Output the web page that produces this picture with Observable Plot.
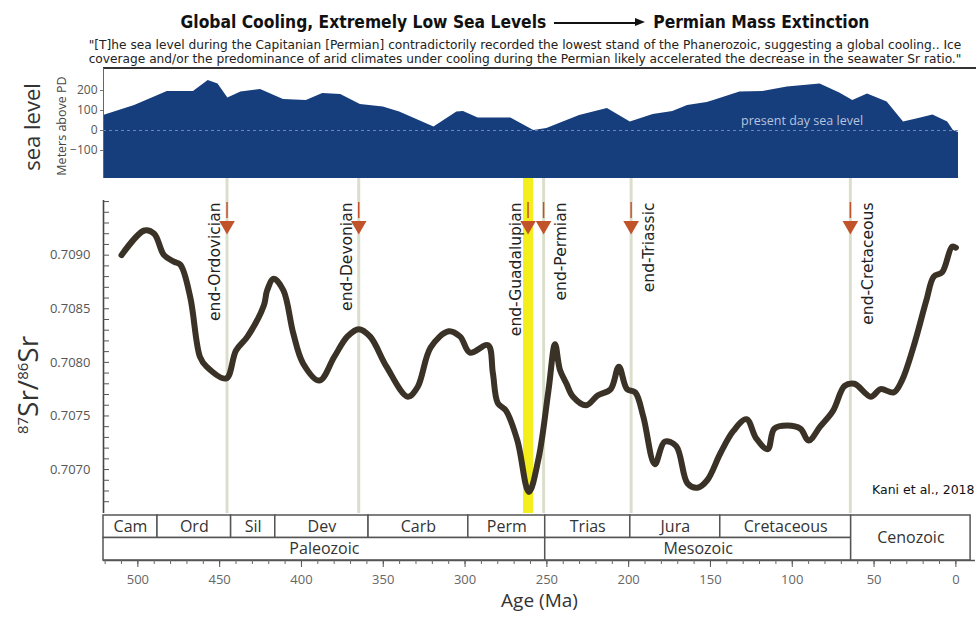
<!DOCTYPE html>
<html>
<head>
<meta charset="utf-8">
<script src="https://cdn.jsdelivr.net/npm/d3@7"></script>
<script src="https://cdn.jsdelivr.net/npm/@observablehq/plot@0.6"></script>
<style>
html, body { margin: 0; padding: 0; background: #fff; }
#chart { position: relative; width: 976px; height: 619px; overflow: hidden; background: #fff; font-family: "Open Sans", sans-serif; color: #333; }
#title { position: absolute; top: 10px; left: 74px; width: 902px; text-align: center; font-family: "Liberation Sans Narrow", "DejaVu Sans Condensed", sans-serif; font-weight: bold; font-size: 17.3px; line-height: 24px; color: #111; white-space: nowrap; }
.arrow { display: inline-block; position: relative; width: 82px; height: 1.5px; background: #111; vertical-align: middle; margin: 0 17px 0 8px; }
.arrow::after { content: ""; position: absolute; right: -9px; top: -4px; border-left: 10px solid #111; border-top: 4.75px solid transparent; border-bottom: 4.75px solid transparent; }
#quote { position: absolute; top: 38px; left: 74px; width: 902px; text-align: center; font-family: "Liberation Sans Narrow", "DejaVu Sans Condensed", sans-serif; font-size: 11.4px; line-height: 14.4px; color: #222; white-space: nowrap; transform: scaleX(1.19); transform-origin: 451px 0; }
#topline { position: absolute; left: 103px; top: 67px; width: 873px; height: 2px; background: #333; }
.rot { position: absolute; transform: translate(-50%, -50%) rotate(-90deg); white-space: nowrap; }
.rot sup { font-size: 15px; vertical-align: 0.7em; line-height: 0; }
</style>
</head>
<body>
<div id="chart">
  <div id="title">Global Cooling, Extremely Low Sea Levels<span class="arrow"></span>Permian Mass Extinction</div>
  <div id="quote">"[T]he sea level during the Capitanian [Permian] contradictorily recorded the lowest stand of the Phanerozoic, suggesting a global cooling.. Ice<br>coverage and/or the predominance of arid climates under cooling during the Permian likely accelerated the decrease in the seawater Sr ratio."</div>
  <div id="topline"></div>
  <div class="rot" style="left:31px;top:127px;font-size:22px;color:#333">sea level</div>
  <div class="rot" style="left:61px;top:126px;font-size:12.5px;color:#444">Meters above PD</div>
  <div class="rot" style="left:27px;top:385px;font-size:28px;color:#333"><sup>87</sup>Sr/<sup>86</sup>Sr</div>
</div>
<script>
// ---- data ----
const xDomain = [521, -12];

const seaAge   = [521, 502, 482, 466, 457, 451, 445, 437, 425, 411, 397, 387, 376, 364, 350, 340, 319, 305, 301, 292, 278, 272, 258, 250, 230, 213, 199, 185, 173, 164, 152, 148, 132, 118, 103, 83, 71, 63, 54, 42, 32, 24, 14, 5, 1.5, -1.6];
const seaLevel = [75, 125, 195, 195, 250, 233, 162, 192, 205, 155, 150, 185, 180, 130, 117, 92, 17, 92, 95, 62, 62, 62, 0, 10, 75, 110, 42, 80, 95, 125, 140, 150, 192, 195, 217, 233, 188, 150, 183, 142, 42, 58, 78, 42, 0, -10];
const seaTicks = [-100, 0, 100, 200];
const seaLabel = "present day sea level";

const srAge = [510, 496, 490, 484, 478, 474, 468, 462, 458, 446, 440, 433, 423, 421, 417, 411, 405, 399, 389, 380, 372, 365, 358, 348, 335, 329, 321, 310, 303, 297, 286, 283, 280, 275, 268, 261, 255, 249, 245, 242, 238, 234, 226, 219, 211, 206, 201, 196, 191, 184, 178, 171, 164, 158, 152, 144, 136, 128, 122, 115, 111, 103, 95, 90, 83, 75, 68, 62, 52, 46, 38, 33, 26, 18, 13.5, 8.4, 2.3, 0];
const srRatio = [0.70900, 0.70923, 0.70920, 0.70900, 0.70894, 0.70891, 0.70861, 0.70805, 0.70796, 0.70785, 0.70811, 0.70824, 0.70853, 0.70867, 0.70878, 0.70867, 0.70827, 0.70799, 0.70783, 0.70805, 0.70824, 0.70831, 0.70824, 0.70796, 0.70768, 0.70777, 0.70814, 0.70829, 0.70824, 0.70809, 0.70816, 0.70790, 0.70762, 0.70755, 0.70727, 0.70679, 0.70711, 0.70774, 0.70817, 0.70793, 0.70780, 0.70768, 0.70760, 0.70769, 0.70775, 0.70796, 0.70775, 0.70772, 0.70749, 0.70705, 0.70726, 0.70722, 0.70687, 0.70683, 0.70690, 0.70715, 0.70736, 0.70747, 0.70729, 0.70719, 0.70738, 0.70741, 0.70738, 0.70727, 0.70740, 0.70755, 0.70778, 0.70780, 0.70768, 0.70775, 0.70772, 0.70783, 0.70814, 0.70858, 0.70880, 0.70884, 0.70908, 0.70907];
const srTicks = [0.7070, 0.7075, 0.7080, 0.7085, 0.7090];

const eventNames = ["end-Ordovician", "end-Devonian", "end-Guadalupian", "end-Permian", "end-Triassic", "end-Cretaceous"];
const eventAges  = [445.5, 365, 261.5, 252, 198.5, 64.5];
const highlightEvent = "end-Guadalupian";
const credit = "Kani et al., 2018";

const periodNames = ["Cam", "Ord", "Sil", "Dev", "Carb", "Perm", "Trias", "Jura", "Cretaceous"];
const periodStart = [521, 488, 443, 416, 359, 298, 251, 199, 144];
const periodEnd   = [488, 443, 416, 359, 298, 251, 199, 144, 64];
const eraNames = ["Paleozoic", "Mesozoic", "Cenozoic"];
const eraStart = [521, 251, 64];
const eraEnd   = [251, 64, -9];
const ageTicks = [500, 450, 400, 350, 300, 250, 200, 150, 100, 50, 0];
const xLabel = "Age (Ma)";

// ---- tables ----
const sea = seaAge.map((a, i) => ({age: a, sl: seaLevel[i]}));
const sr = srAge.map((a, i) => ({age: a, sr: srRatio[i]}));
const events = eventNames.map((n, i) => ({name: n, age: eventAges[i]}));
const periods = periodNames.map((n, i) => ({name: n, start: periodStart[i], end: periodEnd[i]}));
const eras = eraNames.map((n, i) => {
  const hasPeriods = periods.some(p => p.start <= eraStart[i] && p.end >= eraEnd[i]);
  return {name: n, start: eraStart[i], end: eraEnd[i], span: !hasPeriods};
});

const W = 976;
const chart = document.getElementById("chart");
const baseStyle = {background: "transparent", overflow: "visible", fontFamily: "Open Sans, sans-serif"};
function place(svg, top) {
  svg.style.position = "absolute";
  svg.style.left = "0px";
  svg.style.top = top + "px";
  chart.appendChild(svg);
}

// ---- sea level panel ----
const seaBase = -240;
const plotSea = Plot.plot({
  width: W, height: 125,
  marginLeft: 103, marginRight: 1, marginTop: 8, marginBottom: 7,
  style: baseStyle,
  x: {domain: xDomain, axis: null},
  y: {domain: [seaBase, 310], axis: null},
  marks: [
    Plot.areaY(sea, {x: "age", y1: seaBase, y2: "sl", fill: "#163d7c", curve: "linear"}),
    Plot.ruleY([0], {x1: seaAge[0], x2: seaAge[seaAge.length - 1], stroke: "#6d87bb", strokeDasharray: "3,3", strokeWidth: 1.2}),
    Plot.text([seaLabel], {x: 94, y: 50, fill: "#b7c4df", fontSize: 12.5}),
    Plot.ruleX([xDomain[0]], {stroke: "#666", strokeWidth: 1}),
    Plot.axisY(seaTicks, {anchor: "left", tickSize: 3, tickPadding: 3, fontSize: 12, fill: "#555", stroke: "#777", label: null})
  ]
});
place(plotSea, 60);

// ---- Sr panel ----
const srTop = 178;
const plotSr = Plot.plot({
  width: W, height: 335,
  marginLeft: 103, marginRight: 1, marginTop: 22, marginBottom: 0,
  style: baseStyle,
  x: {domain: xDomain, axis: null},
  y: {domain: [0.70659, 0.70951], axis: null},
  marks: [
    Plot.ruleX(events.filter(d => d.name !== highlightEvent), {x: "age", stroke: "#dcdecd", strokeWidth: 3, insetTop: -22}),
    Plot.ruleX(events.filter(d => d.name === highlightEvent), {x: "age", stroke: "#f3ee1c", strokeWidth: 10, insetTop: -22}),
    Plot.ruleX([xDomain[0]], {stroke: "#444", strokeWidth: 1.6}),
    Plot.axisY(d3.range(67, 96).map(i => 0.7 + i / 10000), {anchor: "left", tickSize: 6, dx: 6, tickFormat: () => "", stroke: "#555", label: null}),
    Plot.axisY(srTicks, {anchor: "left", tickSize: 0, tickPadding: 13, tickFormat: d3.format(".4f"), fontSize: 13, fill: "#555", label: null}),
    Plot.line(sr, {x: "age", y: "sr", stroke: "#3a3226", strokeWidth: 6, curve: "catmull-rom", strokeLinejoin: "round", strokeLinecap: "round"}),
    Plot.ruleX(events, {x: "age", stroke: "#c1532b", strokeWidth: 1.5, insetTop: 2, insetBottom: 295}),
    Plot.dot(events, {x: "age", frameAnchor: "top", dy: 25, symbol: "triangle", rotate: 180, r: 5.8, fill: "#c1532b", stroke: null}),
    Plot.text(events.filter(d => d.age > 255), {x: "age", text: "name", frameAnchor: "top", rotate: -90, textAnchor: "end", dx: -18, dy: 2, fontSize: 15.5, fontFamily: "DejaVu Sans", fill: "#222"}),
    Plot.text(events.filter(d => d.age <= 255), {x: "age", text: "name", frameAnchor: "top", rotate: -90, textAnchor: "end", dx: 11.5, dy: 2, fontSize: 15.5, fontFamily: "DejaVu Sans", fill: "#222"}),
    Plot.text([credit], {frameAnchor: "bottom-right", textAnchor: "end", dx: -1, dy: -20, fontSize: 12.5, fontFamily: "DejaVu Sans", fill: "#111"})
  ]
});
place(plotSr, srTop);

// ---- timescale + age axis ----
const plotTs = Plot.plot({
  width: W, height: 106,
  marginLeft: 103, marginRight: 1, marginTop: 2, marginBottom: 59,
  style: baseStyle,
  x: {domain: xDomain, axis: null},
  y: {domain: [0, 2], axis: null},
  marks: [
    Plot.rect(periods, {x1: "start", x2: "end", y1: 1, y2: 2, fill: "white", stroke: "#555", strokeWidth: 1.5}),
    Plot.rect(eras, {x1: "start", x2: "end", y1: 0, y2: d => d.span ? 2 : 1, fill: "white", stroke: "#555", strokeWidth: 1.5}),
    Plot.text(periods, {x: d => (d.start + d.end) / 2, y: 1.5, text: "name", fontSize: 16, fill: "#333"}),
    Plot.text(eras, {x: d => (d.start + d.end) / 2, y: d => d.span ? 1 : 0.5, text: "name", fontSize: 16, fill: "#333"}),
    Plot.ruleY([0], {stroke: "#555", strokeWidth: 1.5}),
    Plot.axisX(d3.range(0, 521, 10), {anchor: "bottom", tickSize: 4, tickFormat: () => "", stroke: "#666", label: null}),
    Plot.axisX(ageTicks, {anchor: "bottom", tickSize: 7, tickPadding: 7, fontSize: 13, fill: "#666", stroke: "#555", label: null}),
    Plot.text([xLabel], {frameAnchor: "bottom", dy: 46, fontSize: 19, fill: "#333"})
  ]
});
place(plotTs, 513);
</script>
</body>
</html>
